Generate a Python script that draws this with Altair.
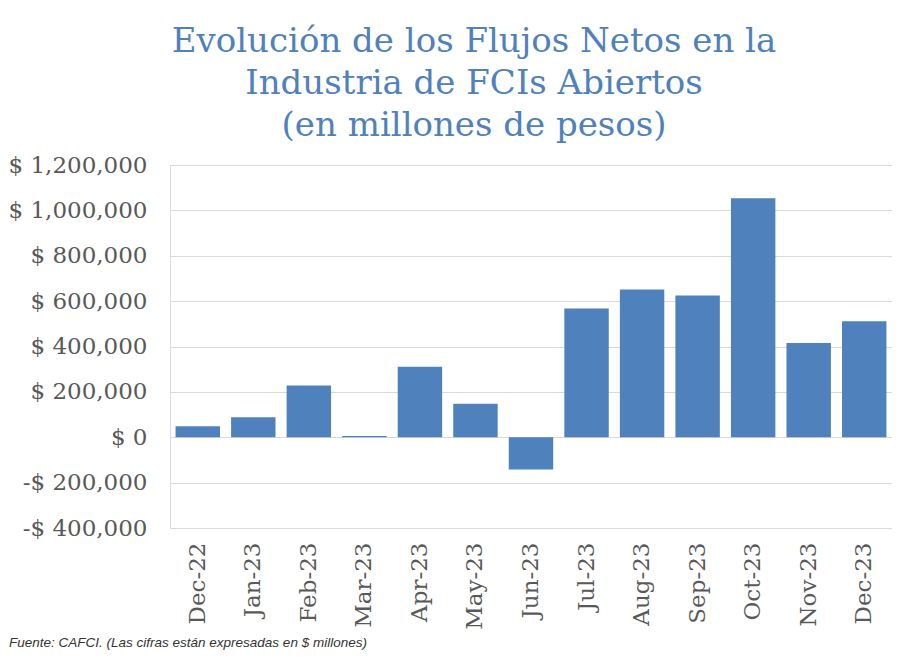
import altair as alt
import pandas as pd

months = ["Dec-22", "Jan-23", "Feb-23", "Mar-23", "Apr-23", "May-23", "Jun-23",
          "Jul-23", "Aug-23", "Sep-23", "Oct-23", "Nov-23", "Dec-23"]
flows = [48000, 88000, 228000, 5000, 311000, 148000, -142000,
         568000, 651000, 625000, 1053000, 415000, 511000]
y_ticks = [-400000, -200000, 0, 200000, 400000, 600000, 800000, 1000000, 1200000]
title_lines = ["Evolución de los Flujos Netos en la",
               "Industria de FCIs Abiertos",
               "(en millones de pesos)"]
footer = ["Fuente: CAFCI.  (Las cifras están expresadas en $ millones)"]

df = pd.DataFrame({"month": months, "flow": flows})
foot_df = pd.DataFrame({"t": footer})

W, H = 722, 363
SERIF = "DejaVu Serif"
GREY = "#595959"

label_expr = ("datum.value < 0 ? '-$ ' + format(-datum.value, ',') : "
              "'$ ' + format(datum.value, ',')")

bars = alt.Chart(df).mark_bar(color="#4f81bd").encode(
    x=alt.X("month:N", sort=months,
            scale=alt.Scale(paddingInner=0.2, paddingOuter=0.1),
            axis=alt.Axis(title=None, labelAngle=-90, labelFont=SERIF,
                          labelFontSize=23, labelColor=GREY, labelPadding=14,
                          ticks=False, domain=False, labelAlign="right",
                          labelBaseline="middle")),
    y=alt.Y("flow:Q",
            scale=alt.Scale(domain=[-400000, 1200000], nice=False),
            axis=alt.Axis(values=y_ticks, labelExpr=label_expr, grid=True,
                          gridColor="#d9d9d9", gridWidth=1, ticks=False,
                          domain=False, labelPadding=23, labelFont=SERIF,
                          labelFontSize=23, labelColor=GREY, title=None)),
)

foot = alt.Chart(foot_df).mark_text(
    align="left", baseline="alphabetic", font="Liberation Sans",
    fontStyle="italic", fontSize=13.5, color="#333333"
).encode(text="t:N", x=alt.value(-161), y=alt.value(H + 119))

chart = alt.layer(bars, foot).properties(
    width=W, height=H,
    padding={"left": 0, "top": 17, "right": 0, "bottom": 0},
    title=alt.TitleParams(title_lines, font=SERIF, fontSize=34,
                          fontWeight="normal", color="#4f81bd",
                          lineHeight=42, anchor="middle", frame="group",
                          dx=-57, offset=11),
).configure_view(stroke=None).configure(background="white")

chart.save("out.html", embed_options={"renderer": "svg", "actions": False})
